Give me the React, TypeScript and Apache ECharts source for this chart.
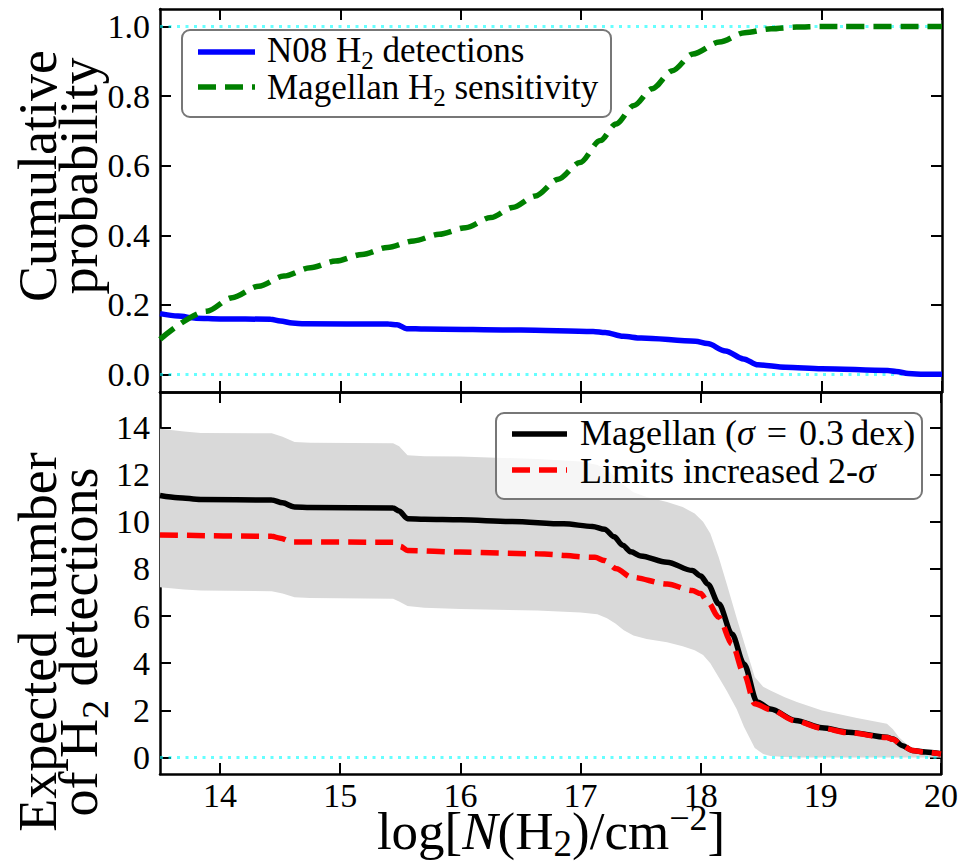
import React, { useEffect, useRef } from "react";
import * as echarts from "echarts";

const X_MIN = 13.5;
const X_MAX = 20;
const TOP_Y_MIN = -0.05;
const TOP_Y_MAX = 1.05;
const BOT_Y_MIN = -0.7;
const BOT_Y_MAX = 15.5;

const xTicks = [14, 15, 16, 17, 18, 19, 20];
const topYTicks = [0, 0.2, 0.4, 0.6, 0.8, 1.0];
const bottomYTicks = [0, 2, 4, 6, 8, 10, 12, 14];
const topRefLines = [0, 1];
const bottomRefLines = [0];

// N08 H2 detections (cumulative probability)
const n08X = [13.5, 13.65, 13.8, 14.0, 14.42, 14.5, 14.6, 14.7, 15.4, 15.47, 15.55, 15.7, 16.5, 17.1, 17.2, 17.35, 17.5, 17.95, 18.05, 18.2, 18.35, 18.47, 18.7, 19.0, 19.55, 19.62, 19.72, 19.85, 20.0];
const n08Y = [0.175, 0.168, 0.162, 0.16, 0.159, 0.154, 0.148, 0.146, 0.145, 0.143, 0.132, 0.131, 0.128, 0.124, 0.121, 0.11, 0.105, 0.096, 0.089, 0.068, 0.045, 0.028, 0.021, 0.017, 0.012, 0.009, 0.003, 0.001, 0.001];

// Magellan H2 sensitivity (cumulative probability)
const sensX = [13.5, 13.89, 14.1, 14.32, 14.53, 14.75, 14.96, 15.18, 15.39, 15.61, 15.82, 16.04, 16.25, 16.43, 16.62, 16.81, 16.99, 17.16, 17.29, 17.44, 17.59, 17.76, 17.93, 18.15, 18.36, 18.58, 18.79, 19.0, 20.0];
const sensY = [0.101, 0.182, 0.221, 0.254, 0.283, 0.307, 0.326, 0.345, 0.365, 0.384, 0.403, 0.422, 0.451, 0.48, 0.513, 0.561, 0.609, 0.672, 0.72, 0.773, 0.821, 0.873, 0.921, 0.955, 0.982, 0.993, 0.998, 1.0, 1.0];

// Magellan (sigma = 0.3 dex) expected detections
const magX = [13.5, 13.65, 13.84, 14.43, 14.52, 14.62, 14.75, 15.44, 15.49, 15.56, 15.7, 16.0, 16.43, 16.86, 17.1, 17.2, 17.28, 17.35, 17.42, 17.5, 17.72, 17.93, 18.0, 18.06, 18.15, 18.26, 18.36, 18.47, 18.58, 18.79, 19.01, 19.23, 19.55, 19.6, 19.68, 19.76, 19.87, 20.0];
const magY = [11.11, 11.02, 10.94, 10.92, 10.8, 10.62, 10.6, 10.58, 10.45, 10.13, 10.1, 10.08, 10.01, 9.91, 9.8, 9.68, 9.36, 9.0, 8.72, 8.55, 8.28, 7.93, 7.7, 7.35, 6.52, 5.24, 3.97, 2.35, 2.06, 1.57, 1.26, 1.07, 0.86, 0.78, 0.5, 0.3, 0.23, 0.16];

// Limits increased 2-sigma
const limX = [13.5, 14.43, 14.5, 14.6, 15.44, 15.5, 15.56, 16.0, 16.64, 17.12, 17.2, 17.3, 17.42, 17.72, 17.93, 18.0, 18.06, 18.15, 18.26, 18.36, 18.45, 18.58, 18.79, 19.01, 19.23, 19.55, 19.6, 19.68, 19.76, 19.87, 20.0];
const limY = [9.44, 9.38, 9.3, 9.14, 9.13, 8.95, 8.78, 8.71, 8.64, 8.49, 8.35, 8.0, 7.65, 7.36, 7.08, 6.95, 6.59, 5.95, 4.82, 3.55, 2.28, 2.03, 1.55, 1.24, 1.05, 0.85, 0.77, 0.5, 0.3, 0.22, 0.15];

// shaded uncertainty band
const bandX = [13.5, 13.7, 13.84, 14.43, 14.52, 14.62, 14.75, 15.44, 15.49, 15.56, 15.7, 16.0, 16.64, 17.0, 17.14, 17.22, 17.29, 17.36, 17.44, 17.55, 17.72, 17.85, 17.95, 18.02, 18.08, 18.15, 18.22, 18.3, 18.36, 18.45, 18.52, 18.58, 18.7, 18.8, 19.01, 19.3, 19.55, 19.6, 19.65, 19.74, 19.87, 20.0];
const bandHi = [13.94, 13.82, 13.76, 13.75, 13.6, 13.38, 13.35, 13.33, 13.2, 12.82, 12.78, 12.76, 12.66, 12.55, 12.4, 12.2, 11.9, 11.55, 11.25, 11.05, 10.83, 10.62, 10.35, 10.0, 9.5, 8.49, 7.3, 5.9, 4.9, 3.41, 3.0, 2.84, 2.55, 2.35, 1.99, 1.68, 1.43, 1.2, 0.86, 0.45, 0.28, 0.2];
const bandLo = [7.22, 7.12, 7.08, 7.05, 6.95, 6.8, 6.76, 6.73, 6.62, 6.42, 6.35, 6.3, 6.23, 6.15, 6.08, 5.9, 5.68, 5.4, 5.17, 5.02, 4.89, 4.72, 4.55, 4.35, 4.0, 3.4, 2.8, 2.05, 1.3, 0.4, 0.15, 0.06, 0.02, 0, 0, 0, 0, 0, 0, 0, 0, 0];

const SERIF = '"Liberation Serif", "Times New Roman", Times, serif';
const zip = (xs: number[], ys: number[]) => xs.map((x, i) => [x, ys[i]]);

const tickStyle = { show: true, inside: true, length: 11, lineStyle: { color: "#000", width: 2 } };
const lineAxis = { show: true, onZero: false, lineStyle: { color: "#000", width: 2.5 } };

function xAxisDef(gridIndex: number, position: string, showLabels: boolean) {
  return {
    type: "value",
    gridIndex,
    position,
    min: X_MIN,
    max: X_MAX,
    axisLine: lineAxis,
    axisTick: { ...tickStyle, customValues: xTicks },
    axisLabel: {
      show: showLabels,
      customValues: xTicks,
      fontFamily: SERIF,
      fontSize: 34,
      lineHeight: 34,
      color: "#000",
      margin: 4,
    },
    splitLine: { show: false },
  };
}

function yAxisDef(gridIndex: number, position: string, showLabels: boolean, min: number, max: number, ticks: number[], decimals: number) {
  return {
    type: "value",
    gridIndex,
    position,
    min,
    max,
    axisLine: lineAxis,
    axisTick: { ...tickStyle, customValues: ticks },
    axisLabel: {
      show: showLabels,
      customValues: ticks,
      fontFamily: SERIF,
      fontSize: 34,
      lineHeight: 34,
      color: "#000",
      margin: 10,
      formatter: (v: number) => v.toFixed(decimals),
    },
    splitLine: { show: false },
  };
}

const refLineStyle = { color: "rgba(0,255,255,0.6)", width: 3, type: [3, 5.5] };

// subscripts / superscripts are shifted with asymmetric padding
function legendRich(size: number) {
  return {
    sub: { fontSize: 25, fontFamily: SERIF, padding: [21, 0, 0, 0], fill: "#000" },
    i: { fontSize: size, fontFamily: SERIF, fontStyle: "italic", fill: "#000" },
  };
}
const yTitleRich = {
  sub: { fontSize: 38, fontFamily: SERIF, padding: [32, 0, 0, 0], fill: "#000" },
};
const xTitleRich = {
  sub: { fontSize: 37, fontFamily: SERIF, padding: [24, 0, 0, 0], fill: "#000" },
  sup: { fontSize: 36, fontFamily: SERIF, padding: [0, 0, 26, 0], fill: "#000" },
  i: { fontSize: 53, fontFamily: SERIF, fontStyle: "italic", fill: "#000" },
};

function legendText(x: number, y: number, text: string, size: number) {
  return {
    type: "text",
    x,
    y,
    z: 101,
    style: {
      text,
      fontFamily: SERIF,
      fontSize: size,
      lineHeight: 34,
      fill: "#000",
      align: "left",
      verticalAlign: "middle",
      rich: legendRich(size),
    },
  };
}

export default function App() {
  const ref = useRef<HTMLDivElement>(null);

  useEffect(() => {
    if (!ref.current) return;
    const chart = echarts.init(ref.current, undefined, { renderer: "svg" });

    const option: any = {
      animation: false,
      backgroundColor: "#fff",
      grid: [
        { left: 160, top: 9, width: 782, height: 383 },
        { left: 160, top: 392, width: 782, height: 382 },
      ],
      xAxis: [
        xAxisDef(0, "bottom", false),
        xAxisDef(0, "top", false),
        xAxisDef(1, "bottom", true),
        xAxisDef(1, "top", false),
      ],
      yAxis: [
        yAxisDef(0, "left", true, TOP_Y_MIN, TOP_Y_MAX, topYTicks, 1),
        yAxisDef(0, "right", false, TOP_Y_MIN, TOP_Y_MAX, topYTicks, 1),
        yAxisDef(1, "left", true, BOT_Y_MIN, BOT_Y_MAX, bottomYTicks, 0),
        yAxisDef(1, "right", false, BOT_Y_MIN, BOT_Y_MAX, bottomYTicks, 0),
      ],
      series: [
        {
          type: "custom",
          name: "band",
          xAxisIndex: 2,
          yAxisIndex: 2,
          z: 1,
          silent: true,
          data: bandX.map((x, i) => [x, bandLo[i], bandHi[i]]),
          encode: { x: 0, y: [1, 2] },
          renderItem: (params: any, api: any) => {
            if (params.dataIndex !== 0) return null;
            const pts: number[][] = [];
            for (let i = 0; i < bandX.length; i++) pts.push(api.coord([bandX[i], bandHi[i]]));
            for (let i = bandX.length - 1; i >= 0; i--) pts.push(api.coord([bandX[i], bandLo[i]]));
            return { type: "polygon", shape: { points: pts }, style: { fill: "#d9d9d9" } };
          },
        },
        {
          type: "line",
          name: "N08 H2 detections",
          xAxisIndex: 0,
          yAxisIndex: 0,
          data: zip(n08X, n08Y),
          showSymbol: false,
          symbol: "none",
          smooth: 0.3,
          smoothMonotone: "x",
          z: 4,
          lineStyle: { color: "#0000ff", width: 5.5 },
          markLine: {
            silent: true,
            symbol: ["none", "none"],
            z: 1,
            label: { show: false },
            lineStyle: refLineStyle,
            data: topRefLines.map((v) => ({ yAxis: v })),
          },
        },
        {
          type: "line",
          name: "Magellan H2 sensitivity",
          xAxisIndex: 0,
          yAxisIndex: 0,
          data: zip(sensX, sensY),
          showSymbol: false,
          symbol: "none",
          smooth: 0.3,
          smoothMonotone: "x",
          z: 4,
          lineStyle: { color: "#008000", width: 5.5, type: [18, 9] },
        },
        {
          type: "line",
          name: "Magellan (sigma = 0.3 dex)",
          xAxisIndex: 2,
          yAxisIndex: 2,
          data: zip(magX, magY),
          showSymbol: false,
          symbol: "none",
          smooth: 0.3,
          smoothMonotone: "x",
          z: 4,
          lineStyle: { color: "#000000", width: 5.5 },
          markLine: {
            silent: true,
            symbol: ["none", "none"],
            z: 2,
            label: { show: false },
            lineStyle: refLineStyle,
            data: bottomRefLines.map((v) => ({ yAxis: v })),
          },
        },
        {
          type: "line",
          name: "Limits increased 2-sigma",
          xAxisIndex: 2,
          yAxisIndex: 2,
          data: zip(limX, limY),
          showSymbol: false,
          symbol: "none",
          smooth: 0.3,
          smoothMonotone: "x",
          z: 5,
          lineStyle: { color: "#ff0000", width: 5.5, type: [18, 9] },
        },
      ],
      graphic: [
        // top legend
        {
          type: "rect",
          z: 100,
          shape: { x: 182, y: 30, width: 429, height: 87, r: 8 },
          style: { fill: "rgba(255,255,255,0.8)", stroke: "#777777", lineWidth: 2 },
        },
        {
          type: "line",
          z: 101,
          shape: { x1: 198, y1: 52, x2: 255, y2: 52 },
          style: { stroke: "#0000ff", lineWidth: 5.5 },
        },
        {
          type: "line",
          z: 101,
          shape: { x1: 198, y1: 87, x2: 255, y2: 87 },
          style: { stroke: "#008000", lineWidth: 5.5, lineDash: [18, 9] },
        },
        legendText(267, 50, "N08 H{sub|2} detections", 35),
        legendText(267, 87, "Magellan H{sub|2} sensitivity", 35),
        // bottom legend
        {
          type: "rect",
          z: 100,
          shape: { x: 496, y: 413, width: 426, height: 86, r: 8 },
          style: { fill: "rgba(255,255,255,0.75)", stroke: "#777777", lineWidth: 2 },
        },
        {
          type: "line",
          z: 101,
          shape: { x1: 512, y1: 434, x2: 567, y2: 434 },
          style: { stroke: "#000000", lineWidth: 5.5 },
        },
        {
          type: "line",
          z: 101,
          shape: { x1: 512, y1: 470, x2: 567, y2: 470 },
          style: { stroke: "#ff0000", lineWidth: 5.5, lineDash: [18, 9] },
        },
        legendText(580, 433, "Magellan ({i|σ}\u2004=\u20040.3\u2009dex)", 36),
        legendText(580, 471, "Limits increased 2-{i|σ}", 36),
        // axis titles
        {
          type: "text",
          x: 58,
          y: 176,
          rotation: Math.PI / 2,
          z: 50,
          style: {
            text: "Cumulative\nprobability",
            fontFamily: SERIF,
            fontSize: 54,
            lineHeight: 41,
            fill: "#000",
            align: "center",
            verticalAlign: "middle",
            rich: yTitleRich,
          },
        },
        {
          type: "text",
          x: 58,
          y: 642,
          rotation: Math.PI / 2,
          z: 50,
          style: {
            text: "Expected number\nof H{sub|2} detections",
            fontFamily: SERIF,
            fontSize: 54,
            lineHeight: 41,
            fill: "#000",
            align: "center",
            verticalAlign: "middle",
            rich: yTitleRich,
          },
        },
        {
          type: "text",
          x: 551,
          y: 831,
          z: 50,
          style: {
            text: "log[{i|N}(H{sub|2})/cm{sup|−2}]",
            fontFamily: SERIF,
            fontSize: 53,
            lineHeight: 40,
            fill: "#000",
            align: "center",
            verticalAlign: "middle",
            rich: xTitleRich,
          },
        },
      ],
    };

    chart.setOption(option);
    return () => chart.dispose();
  }, []);

  return (
    <div
      ref={ref}
      style={{ position: "fixed", left: 0, top: 0, width: 961, height: 862, background: "#fff" }}
    />
  );
}
